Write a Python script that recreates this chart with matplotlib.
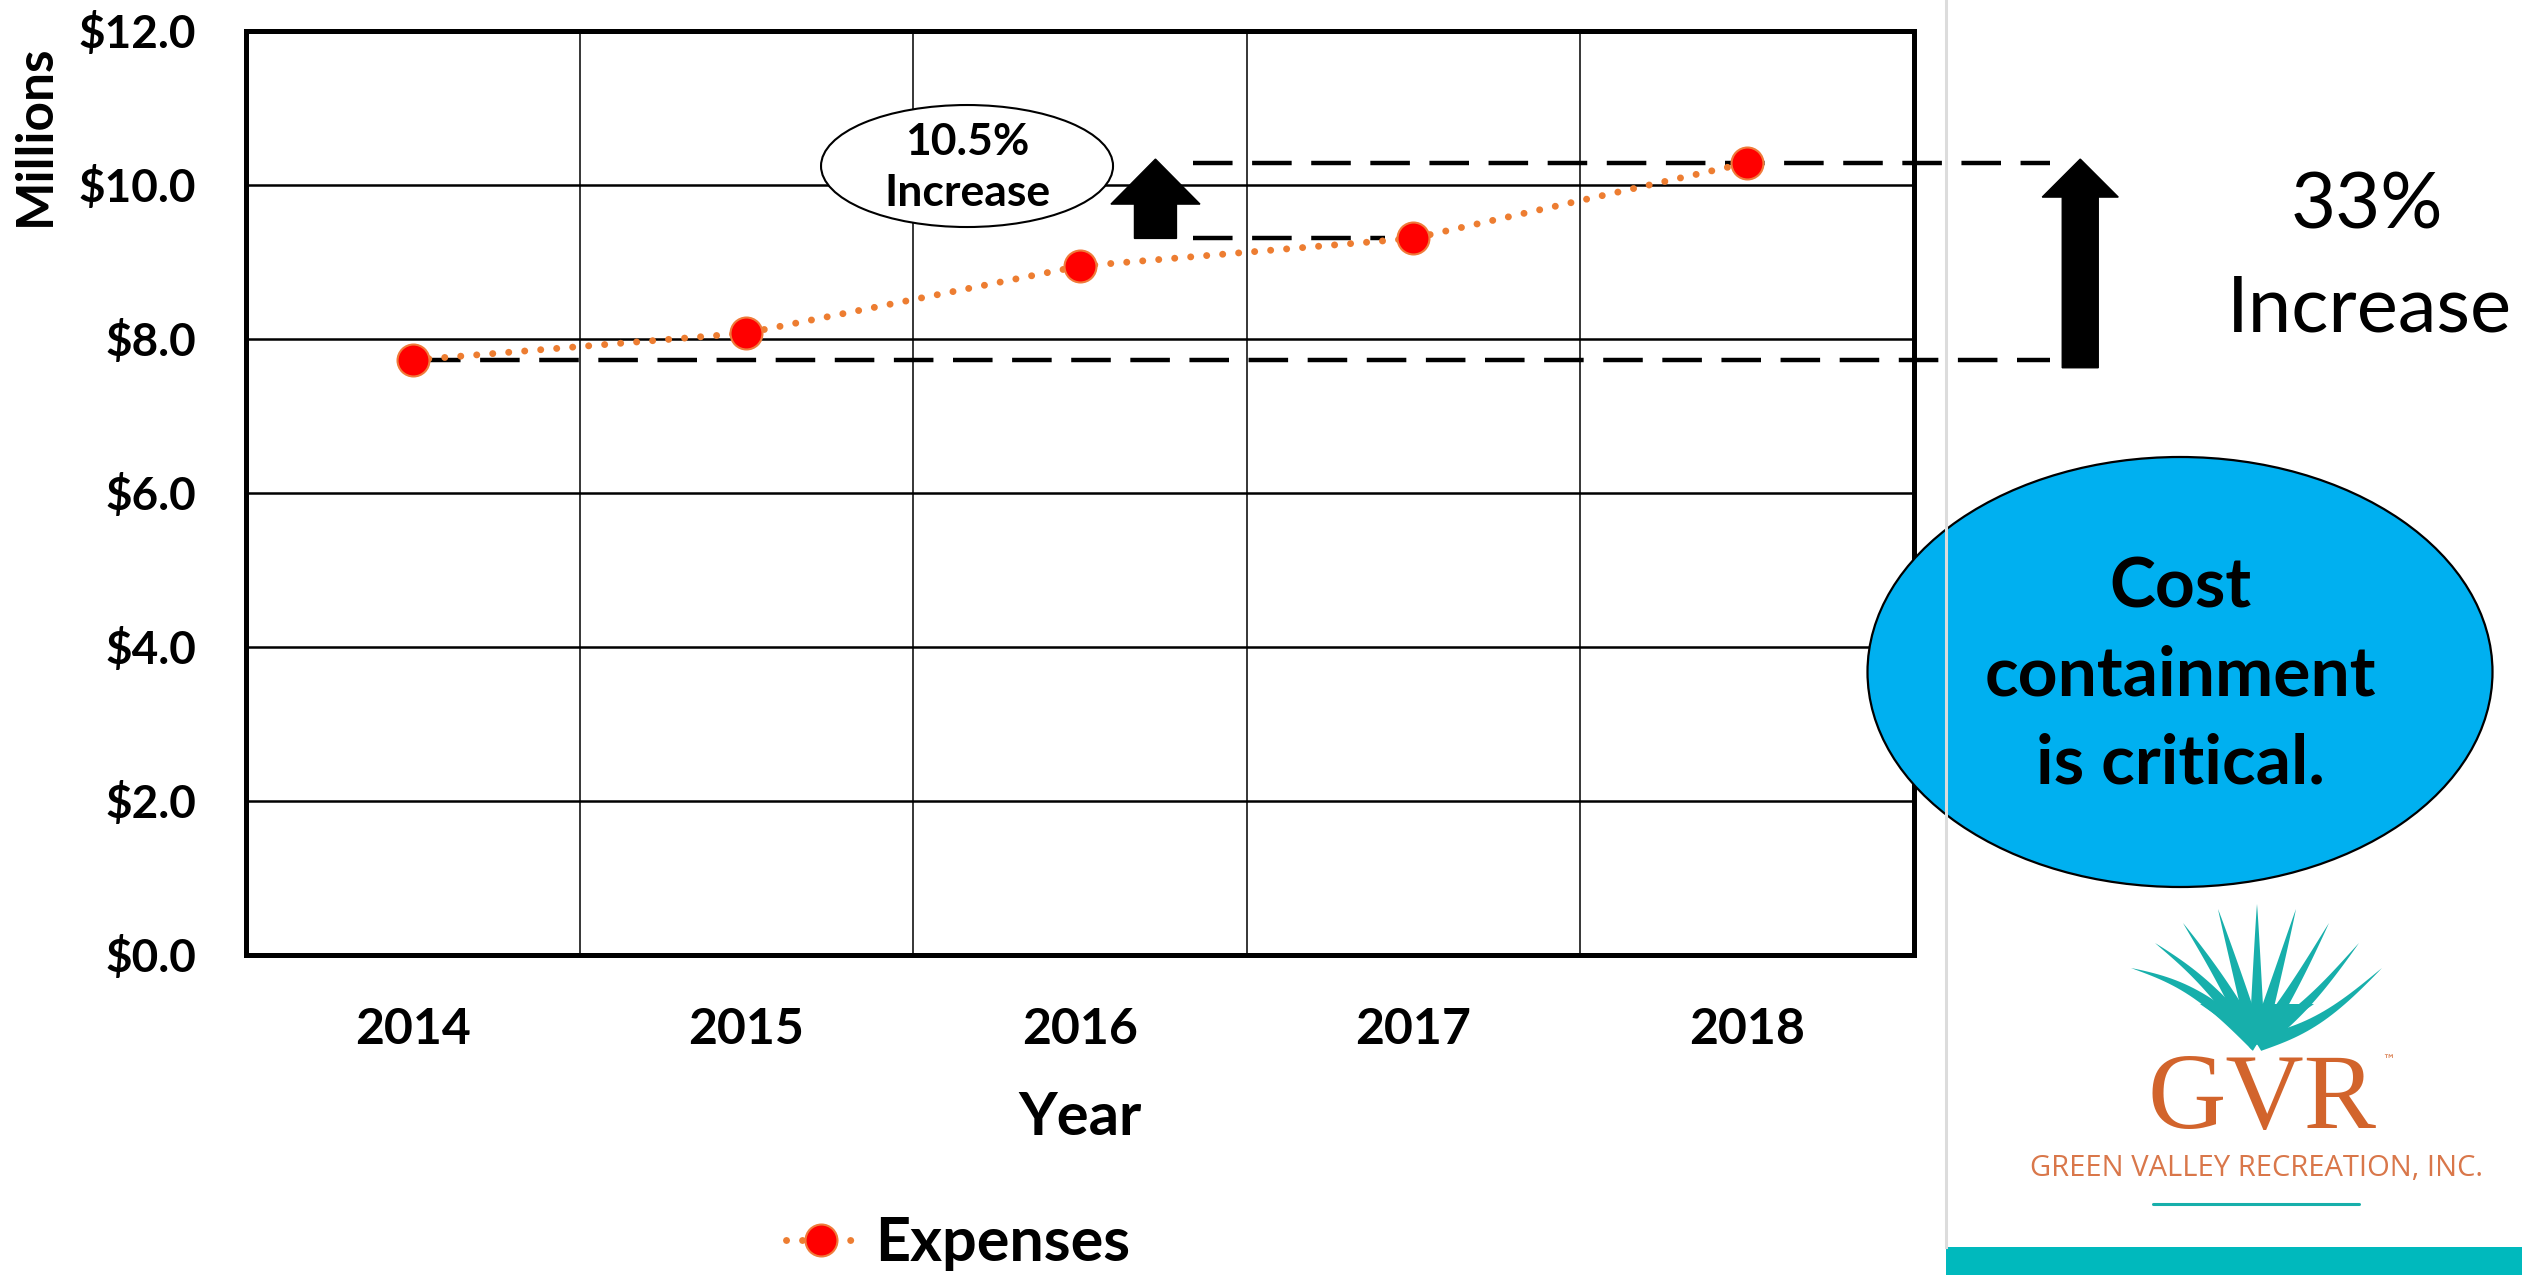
import numpy as np
import matplotlib
matplotlib.use("Agg")
import matplotlib.pyplot as plt
from matplotlib.patches import Ellipse, FancyArrow, Polygon, Rectangle

plt.rcParams['font.family'] = ['Lato', 'DejaVu Sans']

# ---- data -------------------------------------------------------------
years = ['2014', '2015', '2016', '2017', '2018']
expenses = [7.72, 8.07, 8.94, 9.30, 10.28]          # $ millions
y_ticks = [0, 2, 4, 6, 8, 10, 12]
y_tick_labels = [r'\$0.0', r'\$2.0', r'\$4.0', r'\$6.0', r'\$8.0', r'\$10.0', r'\$12.0']
small_note = ['10.5%', 'Increase']
big_note = ['33%', 'Increase']
callout = 'Cost\ncontainment\nis critical.'

W, H = 2522, 1275
fig = plt.figure(figsize=(W / 100, H / 100), dpi=100)
fig.patch.set_facecolor('white')

# ---- main chart -------------------------------------------------------
ax = fig.add_axes([246 / W, 1 - 954.5 / H, (1913.5 - 246) / W, 924 / H])
x = np.arange(len(years))
ax.set_xlim(-0.5, len(years) - 0.5)
ax.set_ylim(0, 12)
ax.set_axisbelow(True)

for s in ax.spines.values():
    s.set_linewidth(3.6)
    s.set_color('black')

ax.set_yticks(y_ticks)
ax.set_yticklabels(y_tick_labels, fontsize=33, fontweight='bold')
ax.set_xticks(x)
ax.set_xticklabels(years, fontsize=36, fontweight='bold')
ax.set_xticks(x[:-1] + 0.5, minor=True)
ax.tick_params(axis='both', which='both', length=0)
ax.tick_params(axis='y', pad=36)
ax.tick_params(axis='x', pad=38)
ax.grid(axis='y', which='major', color='black', lw=1.8)
ax.grid(axis='x', which='minor', color='black', lw=1.1)

ax.set_xlabel('Year', fontsize=43, fontweight='bold', va='center')
ax.xaxis.set_label_coords(0.5, (954.5 - 1118) / 924)
ax.set_ylabel('Millions', fontsize=37, fontweight='bold', va='center', ha='center')
ax.yaxis.set_label_coords((35 - 246) / 1667.5, (954.5 - 135) / 924)

line, = ax.plot(x, expenses, linestyle=(0, (0.01, 2.3)), dash_capstyle='round',
                lw=5.0, color='#ED7D31', marker='o', ms=23,
                mfc='#FF0000', mec='#F07A3A', mew=1.5, zorder=4,
                label='Expenses')

# reference levels and growth arrows
dash = (0, (8.9, 4.4))
ax.plot([0.025, 4.91], [expenses[0]] * 2, color='black', lw=3.2,
        linestyle=dash, clip_on=False, zorder=3)
ax.plot([2.34, 4.91], [expenses[4]] * 2, color='black', lw=3.2,
        linestyle=dash, clip_on=False, zorder=3)
ax.plot([2.34, 2.915], [expenses[3]] * 2, color='black', lw=3.2,
        linestyle=dash, clip_on=False, zorder=3)

px_x, px_y = 333.5, 77.0   # pixels per data unit
ax.add_patch(FancyArrow(2.227, expenses[3], 0, expenses[4] - expenses[3] + 0.05,
                        width=42 / px_x, head_width=89 / px_x,
                        head_length=45 / px_y, length_includes_head=True,
                        color='black', clip_on=False, zorder=5))
ax.add_patch(FancyArrow(5.0, expenses[0] - 0.1, 0, expenses[4] - expenses[0] + 0.15,
                        width=36 / px_x, head_width=76 / px_x,
                        head_length=38 / px_y, length_includes_head=True,
                        color='black', clip_on=False, zorder=5))

ax.add_patch(Ellipse((1.662, 10.24), 292 / px_x, 122 / px_y, facecolor='white',
                     edgecolor='black', lw=1.5, zorder=5, clip_on=False))
ax.text(1.662, 10.22, '\n'.join(small_note), ha='center', va='center',
        fontsize=32, fontweight='bold', linespacing=1.35, zorder=6)

leg = fig.legend(handles=[line], loc='center', frameon=False,
                 bbox_to_anchor=(958 / W, 1 - 1243 / H),
                 prop={'size': 44, 'weight': 'bold'},
                 handlelength=1.15, handletextpad=0.3, numpoints=1)

# ---- side panel (pixel coordinates) -----------------------------------
ov = fig.add_axes([0, 0, 1, 1], zorder=10)
ov.set_xlim(0, W)
ov.set_ylim(H, 0)
ov.axis('off')
ov.patch.set_alpha(0)

ov.plot([1946, 1946], [0, 1247], color='#DCDCDC', lw=2.2)
ov.add_patch(Rectangle((1946, 1247), W - 1946, H - 1247, color='#00B9BD', lw=0))

ov.text(2367, 207, big_note[0], ha='center', va='center', fontsize=56)
ov.text(2369, 310, big_note[1], ha='center', va='center', fontsize=56)

ov.add_patch(Ellipse((2180, 672), 625, 430, facecolor='#00B0F0',
                     edgecolor='black', lw=1.6))
ov.text(2180, 676, callout, ha='center', va='center', fontsize=50,
        fontweight='bold', linespacing=1.5)

# logo: fan of teal blades
teal = '#17AFAB'
base = np.array([2257.0, 1044.0])
tips = [(2131, 968), (2155, 943), (2183, 923), (2218, 909), (2257, 904),
        (2296, 909), (2329, 923), (2359, 943), (2382, 968)]
for tx, ty in tips:
    tip = np.array([tx, ty], dtype=float)
    d = tip - base
    L = np.hypot(*d)
    u = d / L
    n = np.array([-u[1], u[0]])
    sag = 0.10 * (tx - base[0]) / 125.0
    t = np.linspace(0, 1, 30)
    centre = base + np.outer(t, d) + np.outer(np.sin(np.pi * t) * sag * L * abs(u[0]), np.array([0, 1]))
    half = 8.0 * (1 - t) ** 0.9
    left = centre + np.outer(half, n)
    right = centre - np.outer(half, n)
    pts = np.vstack([left, right[::-1]])
    ov.add_patch(Polygon(pts, closed=True, color=teal, lw=0))
ov.add_patch(Polygon([(2257, 1044), (2200, 1004), (2314, 1004)], closed=True,
                     color=teal, lw=0))

orange = '#D2642C'
ov.text(2262, 1128, 'GVR', ha='center', va='baseline', fontsize=78,
        family=['Liberation Serif', 'DejaVu Serif'], color=orange)
ov.text(2388, 1060, '™', ha='center', va='center', fontsize=9,
        family=['DejaVu Sans'], color=orange)
ov.text(2256, 1176, 'GREEN VALLEY RECREATION, INC.', ha='center', va='baseline',
        fontsize=21, family=['Open Sans', 'DejaVu Sans'], color='#D9774A')
ov.plot([2153, 2359], [1204, 1204], color=teal, lw=2.2, solid_capstyle='round')

fig.savefig('out.png', dpi=100)
